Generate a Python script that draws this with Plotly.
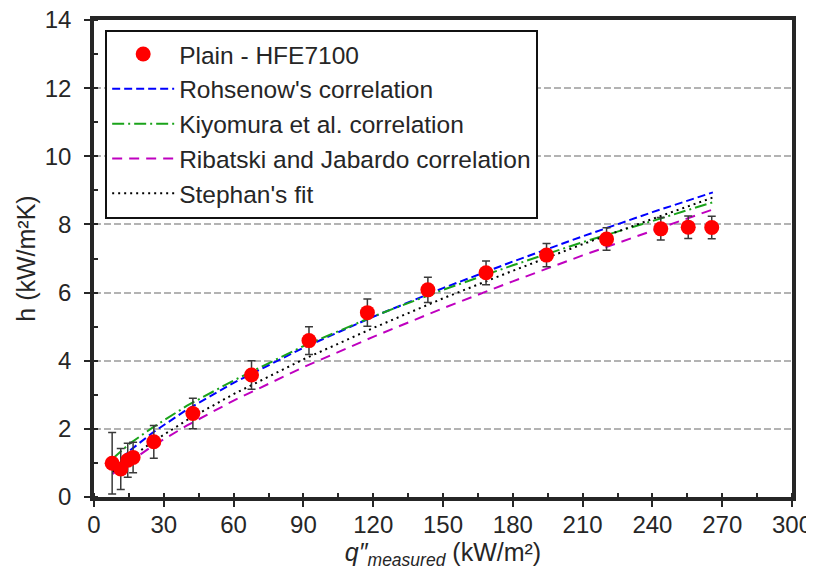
import plotly.graph_objects as go

# Measured data (Plain - HFE7100)
q_meas = [7.8, 11.5, 14.5, 16.8, 25.7, 42.5, 67.7, 92.4, 117.5, 143.5, 168.5, 194.5, 220.3, 243.6, 255.4, 265.5]
h_meas = [0.99, 0.82, 1.08, 1.16, 1.62, 2.45, 3.58, 4.59, 5.41, 6.08, 6.58, 7.10, 7.57, 7.87, 7.92, 7.91]
h_err = [0.9, 0.6, 0.5, 0.45, 0.48, 0.45, 0.42, 0.41, 0.40, 0.37, 0.35, 0.34, 0.33, 0.33, 0.33, 0.33]

# Correlation curves
q_corr = [8, 15, 25, 40, 60, 90, 120, 150, 180, 210, 240, 266]
h_rohsenow = [0.89, 1.34, 1.88, 2.57, 3.35, 4.38, 5.29, 6.13, 6.91, 7.65, 8.36, 8.94]
h_kiyomura = [1.12, 1.55, 2.03, 2.68, 3.42, 4.43, 5.30, 6.08, 6.80, 7.48, 8.10, 8.65]
h_ribatski = [0.68, 1.02, 1.49, 2.10, 2.83, 3.81, 4.70, 5.54, 6.33, 7.09, 7.82, 8.44]
h_stephan = [0.74, 1.12, 1.61, 2.26, 3.02, 4.04, 4.96, 5.83, 6.64, 7.42, 8.16, 8.79]

x_ticks = [0, 30, 60, 90, 120, 150, 180, 210, 240, 270, 300]
y_ticks = [0, 2, 4, 6, 8, 10, 12, 14]

AX = "#262626"
FONT = "Liberation Sans, Arial, sans-serif"

fig = go.Figure()

fig.add_trace(go.Scatter(
    x=q_corr, y=h_rohsenow, mode="lines", name="Rohsenow's correlation",
    line=dict(color="#0000ff", width=2, dash="8px,4px"), legendrank=2,
))
fig.add_trace(go.Scatter(
    x=q_corr, y=h_kiyomura, mode="lines", name="Kiyomura et al. correlation",
    line=dict(color="#1aa31a", width=2, dash="12px,4px,2px,4px"), legendrank=3,
))
fig.add_trace(go.Scatter(
    x=q_corr, y=h_ribatski, mode="lines", name="Ribatski and Jabardo correlation",
    line=dict(color="#bf00bf", width=2, dash="10px,7px"), legendrank=4,
))
fig.add_trace(go.Scatter(
    x=q_corr, y=h_stephan, mode="lines", name="Stephan's fit",
    line=dict(color="#000000", width=2, dash="2px,4px"), legendrank=5,
))
fig.add_trace(go.Scatter(
    x=q_meas, y=h_meas, mode="markers", name="Plain - HFE7100",
    marker=dict(color="#ff0000", size=15, line=dict(width=0)),
    error_y=dict(type="data", array=h_err, visible=True, color="#3a3a3a",
                 thickness=1.5, width=4),
    legendrank=1,
))

fig.update_layout(
    width=806, height=570,
    margin=dict(l=86, r=22, t=12, b=81),
    paper_bgcolor="white", plot_bgcolor="white",
    font=dict(family=FONT, size=24, color=AX),
    showlegend=True,
    legend=dict(
        x=0.016, y=0.98, xanchor="left", yanchor="top",
        bgcolor="white", bordercolor="#111111", borderwidth=2,
        font=dict(size=24.5, color=AX), tracegroupgap=0,
        itemwidth=62, traceorder="normal",
        entrywidth=380, entrywidthmode="pixels",
    ),
    xaxis=dict(
        range=[0, 300], tickvals=x_ticks, ticktext=[str(v) for v in x_ticks],
        showgrid=False, zeroline=False, automargin=False,
        showline=True, linecolor=AX, linewidth=3.5, mirror=True,
        ticks="outside", ticklen=6, tickwidth=1.5, tickcolor=AX,
        minor=dict(dtick=15, ticks="inside", ticklen=4, tickwidth=1.5, tickcolor=AX, showgrid=False),
        tickfont=dict(size=24, color=AX), ticklabelstandoff=-3,
        ticklabeloverflow="allow",
        title=dict(text="<i>q″<sub>measured</sub></i> (kW/m²)", font=dict(size=25, color=AX), standoff=6),
    ),
    yaxis=dict(
        range=[0, 14], tickvals=y_ticks, ticktext=[str(v) for v in y_ticks],
        showgrid=True, gridcolor="#b3b3b3", gridwidth=1.5, griddash="7px,3px",
        zeroline=False, automargin=False,
        showline=True, linecolor=AX, linewidth=3.5, mirror=True,
        ticks="outside", ticklen=6, tickwidth=1.5, tickcolor=AX,
        minor=dict(dtick=1, ticks="inside", ticklen=4, tickwidth=1.5, tickcolor=AX, showgrid=False),
        tickfont=dict(size=24, color=AX), ticklabelstandoff=8,
        ticklabeloverflow="allow",
        title=dict(text="h (kW/m²K)", font=dict(size=25, color=AX), standoff=3),
    ),
)

fig.write_html("out.html")
